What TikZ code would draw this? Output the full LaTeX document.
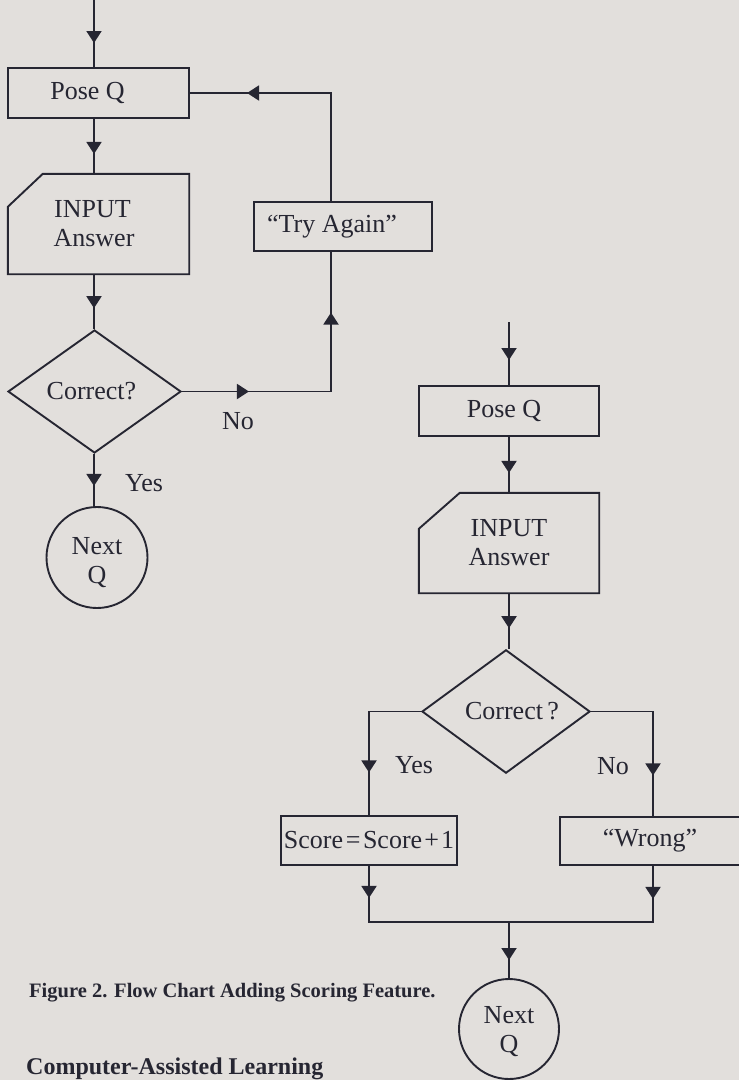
\documentclass[tikz,border=0pt]{standalone}
\usepackage{fontspec}
\setmainfont{Liberation Serif}
\usetikzlibrary{arrows.meta,shapes.geometric,decorations.markings}
\definecolor{paper}{RGB}{226,223,220}
\definecolor{ink}{RGB}{38,38,50}
\begin{document}
\begin{tikzpicture}[x=1pt,y=-1pt,
  >={Triangle[width=15pt,length=12pt]},
  every node/.style={font=\fontsize{26}{29}\selectfont, text=ink, inner sep=0pt, align=center},
  ln/.style={draw=ink, line width=1.9pt},
  box/.style={ln, rectangle, minimum height=49pt},
  inbox/.style={rectangle, minimum height=100pt},
  dec/.style={ln, diamond, minimum height=123pt},
  term/.style={ln, circle, minimum size=101pt},
  arrowat/.style={postaction={decorate}, decoration={markings, mark=at position #1 with {\arrow{>}}}},
  arrowtwo/.style 2 args={postaction={decorate}, decoration={markings, mark=at position #1 with {\arrow{>}}, mark=at position #2 with {\arrow{>}}}},
  lab/.style={},
  capfont/.style={font=\bfseries\fontsize{20.5}{24}\selectfont, anchor=base west},
  titlefont/.style={font=\bfseries\fontsize{24}{28}\selectfont, anchor=base west}
]
\useasboundingbox (0,0) rectangle (739,1080);
\fill[paper] (0,0) rectangle (739,1080);
\clip (0,0) rectangle (739,1080);

% ---------- left chart ----------
\coordinate (ltop) at (94,0);
\coordinate (lloop) at (331,0);
\node[box, minimum width=181pt, minimum height=50pt] (lpose) at (98.5,93) {Pose Q\hspace*{22pt}};
\node[inbox, minimum width=181pt] (linput) at (98.5,224) {INPUT\hspace*{12pt}\\Answer\hspace*{9pt}};
\draw[ln] ([yshift=-33pt]linput.north west) -- ([xshift=35pt]linput.north west) -- (linput.north east) -- (linput.south east) -- (linput.south west) -- cycle;
\node[dec, minimum width=173pt] (ldia) at (94.5,391.5) {Correct?\hspace*{6pt}};
\node[term, label={[lab, yshift=-5pt]center:{Next\\Q}}] (lnext) at (97,557.5) {};
\node[box, minimum width=178pt] (ltry) at (343,226.5) {“Try Again”\hspace*{22pt}};
\node[lab] (lno) at (238,421) {No};
\node[lab] (lyes) at (144,483) {Yes};

\draw[ln, arrowat=43pt] (ltop) -- (ltop |- lpose.north);
\draw[ln, arrowat=35pt] (lpose.south -| ltop) -- (linput.north -| ltop);
\draw[ln, arrowat=34pt] (linput.south -| ltop) -- (ldia.north -| ltop);
\draw[ln, arrowtwo={67pt}{228pt}] (ldia.east) -- (ldia.east -| lloop) -- (ltry.south -| lloop);
\draw[ln, arrowat=192pt] (ltry.north -| lloop) -- (lpose.east -| lloop) -- (lpose.east);
\draw[ln, arrowat=32pt] (ldia.south -| ltop) -- (lnext.north -| ltop);

% ---------- right chart ----------
\coordinate (rtop) at (509,322);
\node[box, minimum width=180pt, minimum height=50pt] (rpose) at (509,411) {Pose Q\hspace*{10pt}};
\node[inbox, minimum width=180pt] (rinput) at (509,543) {INPUT\\Answer};
\draw[ln] ([yshift=-36pt]rinput.north west) -- ([xshift=41pt]rinput.north west) -- (rinput.north east) -- (rinput.south east) -- (rinput.south west) -- cycle;
\node[dec, minimum width=168pt] (rdia) at (506,711.5) {\hspace*{12pt}Correct\,?};
\node[box, minimum width=176pt] (rscore) at (369,840.5) {Score\hspace{0.1em}=\hspace{0.1em}Score\hspace{0.08em}+\hspace{0.08em}1};
\node[box, minimum width=186pt, minimum height=48pt] (rwrong) at (653,841) {“Wrong”\hspace*{6pt}};
\node[term, minimum size=100pt, label={[lab, yshift=-3pt]center:{Next\\Q}}] (rnext) at (509,1029) {};
\node[lab] (ryes) at (414,765) {Yes};
\node[lab] (rno) at (613,766) {No};
\coordinate (rjoin) at (509,922);

\draw[ln, arrowat=38pt] (rtop) -- (rtop |- rpose.north);
\draw[ln, arrowat=36pt] (rpose.south -| rtop) -- (rinput.north -| rtop);
\draw[ln, arrowat=35pt] (rinput.south -| rtop) -- (rdia.north -| rtop);
\draw[ln, arrowat=113pt] (rdia.west) -- (rdia.west -| rscore.north) -- (rscore.north);
\draw[ln, arrowat=126pt] (rdia.east) -- (rdia.east -| rwrong.north) -- (rwrong.north);
\draw[ln, arrowat=32pt] (rscore.south) -- (rscore.south |- rjoin) -- (rjoin);
\draw[ln, arrowat=33pt] (rwrong.south) -- (rwrong.south |- rjoin) -- (rjoin);
\draw[ln, arrowat=38pt] (rjoin) -- (rnext.north);

% ---------- captions ----------
\node[capfont] (cap) at (29,997) {Figure 2. Flow Chart Adding Scoring Feature.};
\node[titlefont] (title) at (26,1074) {Computer-Assisted Learning};
\end{tikzpicture}
\end{document}
